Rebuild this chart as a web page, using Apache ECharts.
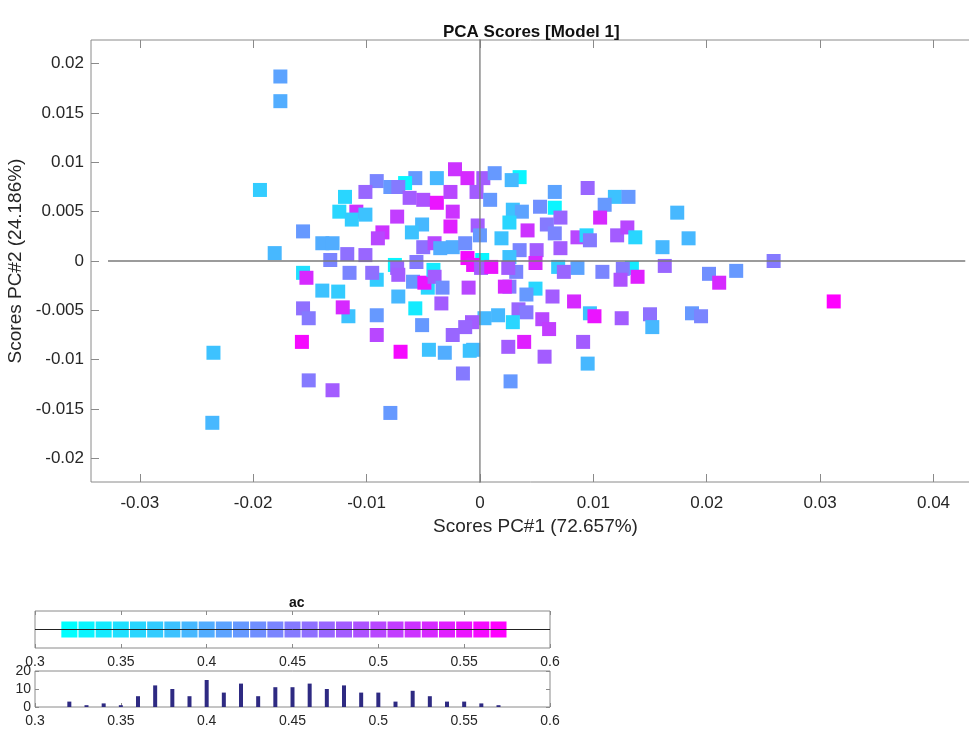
<!DOCTYPE html>
<html>
<head>
<meta charset="utf-8">
<script src="https://cdn.jsdelivr.net/npm/echarts@6/dist/echarts.min.js"></script>
<style>
html, body { margin: 0; padding: 0; background: #fff; }
#chart { width: 969px; height: 731px; }
</style>
</head>
<body>
<div id="chart"></div>
<script>
// PCA scores: [PC#1, PC#2, ac]
var scores = [
    [-0.0176, 0.0187, 0.41], [-0.0176, 0.0162, 0.40], [-0.0194, 0.0072, 0.37], [-0.0156, 0.0030, 0.42],
    [-0.0181, 0.0008, 0.39], [-0.0235, -0.0093, 0.38], [-0.0236, -0.0164, 0.39],
    [-0.0022, 0.0093, 0.52], [-0.0011, 0.0084, 0.53], [0.0003, 0.0084, 0.48], [-0.0057, 0.0084, 0.42],
    [-0.0038, 0.0084, 0.39], [-0.0091, 0.0081, 0.44], [-0.0066, 0.0079, 0.33], [-0.0079, 0.0075, 0.42],
    [-0.0072, 0.0075, 0.45], [-0.0101, 0.0070, 0.47], [-0.0062, 0.0064, 0.48], [-0.0050, 0.0062, 0.49],
    [-0.0038, 0.0059, 0.55], [-0.0026, 0.0070, 0.50], [-0.0003, 0.0070, 0.48], [-0.0119, 0.0065, 0.36],
    [-0.0124, 0.0050, 0.36], [-0.0109, 0.0050, 0.52], [-0.0113, 0.0042, 0.37], [-0.0101, 0.0047, 0.38],
    [-0.0073, 0.0045, 0.51], [-0.0024, 0.0050, 0.52], [-0.0026, 0.0035, 0.54], [-0.0051, 0.0037, 0.39],
    [-0.0060, 0.0029, 0.38], [-0.0086, 0.0029, 0.52], [-0.0090, 0.0023, 0.50], [-0.0139, 0.0018, 0.40],
    [-0.0130, 0.0018, 0.40], [-0.0117, 0.0007, 0.46], [-0.0132, 0.0001, 0.44], [-0.0101, 0.0006, 0.47],
    [-0.0050, 0.0014, 0.46], [-0.0040, 0.0018, 0.50], [-0.0024, 0.0014, 0.40], [-0.0013, 0.0018, 0.43],
    [-0.0002, 0.0036, 0.48], [0.0000, 0.0026, 0.42], [-0.0011, 0.0003, 0.56], [-0.0035, 0.0013, 0.40],
    [-0.0056, -0.0001, 0.45], [-0.0075, -0.0004, 0.33], [0.0002, 0.0001, 0.33],
    [0.0013, 0.0089, 0.42], [0.0035, 0.0085, 0.33], [0.0028, 0.0082, 0.39], [0.0009, 0.0062, 0.42],
    [0.0095, 0.0074, 0.47], [0.0066, 0.0070, 0.41], [0.0119, 0.0065, 0.38], [0.0131, 0.0065, 0.42],
    [0.0110, 0.0057, 0.42], [0.0053, 0.0055, 0.43], [0.0066, 0.0054, 0.33], [0.0029, 0.0052, 0.38],
    [0.0037, 0.0050, 0.41], [0.0071, 0.0044, 0.47], [0.0106, 0.0044, 0.53], [0.0026, 0.0039, 0.36],
    [0.0042, 0.0031, 0.52], [0.0059, 0.0037, 0.45], [0.0019, 0.0023, 0.38], [0.0066, 0.0028, 0.44],
    [0.0086, 0.0024, 0.50], [0.0094, 0.0026, 0.36], [0.0097, 0.0021, 0.45], [0.0121, 0.0026, 0.48],
    [0.0130, 0.0034, 0.50], [0.0137, 0.0024, 0.36], [0.0161, 0.0014, 0.39], [0.0174, 0.0049, 0.39],
    [0.0184, 0.0023, 0.39], [0.0035, 0.0011, 0.44], [0.0050, 0.0011, 0.48], [0.0071, 0.0013, 0.48],
    [0.0026, 0.0004, 0.38], [0.0049, -0.0002, 0.53], [0.0069, -0.0006, 0.37], [0.0086, -0.0007, 0.41],
    [0.0108, -0.0011, 0.44], [0.0134, -0.0007, 0.34], [0.0126, -0.0008, 0.45], [0.0139, -0.0016, 0.54],
    [0.0163, -0.0005, 0.47],
    [0.0259, 0.0000, 0.45], [0.0226, -0.0010, 0.42], [0.0202, -0.0013, 0.43], [0.0211, -0.0022, 0.53],
    [0.0312, -0.0041, 0.57], [0.0124, -0.0019, 0.49], [0.0074, -0.0011, 0.47], [0.0032, -0.0011, 0.44],
    [0.0025, -0.0007, 0.48], [-0.0006, -0.0004, 0.55], [0.0001, -0.0007, 0.48], [0.0010, -0.0006, 0.55],
    [0.0026, -0.0026, 0.45], [0.0022, -0.0026, 0.53], [0.0049, -0.0028, 0.36], [0.0041, -0.0034, 0.42],
    [0.0064, -0.0036, 0.48], [0.0083, -0.0041, 0.53], [0.0034, -0.0049, 0.47], [0.0041, -0.0052, 0.45],
    [0.0016, -0.0055, 0.39], [0.0004, -0.0058, 0.39], [0.0029, -0.0062, 0.36], [0.0055, -0.0059, 0.50],
    [0.0061, -0.0069, 0.51], [0.0097, -0.0053, 0.38], [0.0101, -0.0056, 0.55], [0.0125, -0.0058, 0.48],
    [0.0150, -0.0054, 0.46], [0.0152, -0.0067, 0.39], [0.0187, -0.0053, 0.42], [0.0195, -0.0056, 0.44],
    [0.0025, -0.0087, 0.48], [0.0039, -0.0082, 0.54], [0.0091, -0.0082, 0.48], [0.0057, -0.0097, 0.48],
    [0.0095, -0.0104, 0.39], [0.0027, -0.0122, 0.42], [-0.0006, -0.0090, 0.39], [-0.0007, -0.0062, 0.48],
    [-0.0010, -0.0027, 0.50],
    [-0.0156, -0.0012, 0.35], [-0.0153, -0.0017, 0.53], [-0.0115, -0.0012, 0.44], [-0.0091, -0.0019, 0.37],
    [-0.0095, -0.0012, 0.46], [-0.0073, -0.0007, 0.47], [-0.0072, -0.0014, 0.48], [-0.0059, -0.0021, 0.42],
    [-0.0046, -0.0027, 0.36], [-0.0049, -0.0022, 0.55], [-0.0041, -0.0009, 0.34], [-0.0040, -0.0016, 0.48],
    [-0.0033, -0.0027, 0.43], [-0.0139, -0.0030, 0.38], [-0.0125, -0.0031, 0.37], [-0.0072, -0.0036, 0.39],
    [-0.0057, -0.0048, 0.34], [-0.0034, -0.0043, 0.48], [-0.0156, -0.0048, 0.46], [-0.0151, -0.0058, 0.45],
    [-0.0116, -0.0056, 0.38], [-0.0121, -0.0047, 0.53], [-0.0091, -0.0055, 0.42], [-0.0051, -0.0065, 0.42],
    [-0.0013, -0.0067, 0.47], [-0.0024, -0.0075, 0.47], [-0.0157, -0.0082, 0.56], [-0.0091, -0.0075, 0.50],
    [-0.0070, -0.0092, 0.56], [-0.0045, -0.0090, 0.38], [-0.0031, -0.0093, 0.40], [-0.0009, -0.0091, 0.38],
    [-0.0015, -0.0114, 0.45], [-0.0151, -0.0121, 0.45], [-0.0130, -0.0131, 0.48], [-0.0079, -0.0154, 0.42]
];

// ac histogram
var acBins = [0.32, 0.33, 0.34, 0.35, 0.36, 0.37, 0.38, 0.39, 0.40, 0.41, 0.42, 0.43, 0.44,
              0.45, 0.46, 0.47, 0.48, 0.49, 0.50, 0.51, 0.52, 0.53, 0.54, 0.55, 0.56, 0.57];
var acCounts = [3, 1, 2, 1, 6, 12, 10, 6, 15, 8, 13, 6, 11,
                11, 13, 10, 12, 8, 8, 3, 9, 6, 3, 3, 2, 1];

var xTicks = [-0.03, -0.02, -0.01, 0, 0.01, 0.02, 0.03, 0.04];
var yTicks = [-0.02, -0.015, -0.01, -0.005, 0, 0.005, 0.01, 0.015, 0.02];
var acTicks = [0.3, 0.35, 0.4, 0.45, 0.5, 0.55, 0.6];

// zero lines of the score plot
var zeroH = [[-0.0328, 0], [0.0428, 0]];
var zeroV = [[0, -0.0225], [0, 0.0225]];

var FONT = 'Liberation Sans, Arial, sans-serif';
var frame = '#8a8a8a';
var txt = '#262626';

function fmt(v) { return String(+(+v).toFixed(4)); }

var option = {
    animation: false,
    backgroundColor: '#fff',
    textStyle: { fontFamily: FONT },
    title: [
        { text: 'PCA Scores [Model 1]', left: 438, top: 19,
          textStyle: { fontFamily: FONT, fontSize: 17, fontWeight: 'bold', color: '#111' } },
        { text: 'ac', left: 284, top: 591,
          textStyle: { fontFamily: FONT, fontSize: 14, fontWeight: 'bold', color: '#111' } }
    ],
    visualMap: {
        show: false,
        type: 'continuous',
        min: 0.32,
        max: 0.57,
        dimension: 2,
        seriesIndex: [0, 1],
        inRange: { color: ['#00ffff', '#ff00ff'] }
    },
    grid: [
        { left: 91, top: 40, width: 889, height: 442, show: true, borderColor: frame, borderWidth: 1,
          outerBoundsMode: 'none', containLabel: false },
        { left: 35, top: 611, width: 515, height: 37, show: true, borderColor: frame, borderWidth: 1,
          outerBoundsMode: 'none', containLabel: false },
        { left: 35, top: 671, width: 515, height: 36, show: true, borderColor: frame, borderWidth: 1,
          outerBoundsMode: 'none', containLabel: false }
    ],
    xAxis: [
        {
            gridIndex: 0, type: 'value', min: -0.0343, max: 0.0441,
            name: 'Scores PC#1 (72.657%)', nameLocation: 'middle', nameGap: 34,
            nameTextStyle: { fontFamily: FONT, fontSize: 19, color: txt },
            axisLine: { show: false, onZero: false },
            axisTick: { inside: true, length: 8, customValues: xTicks, lineStyle: { color: frame } },
            axisLabel: { customValues: xTicks, formatter: fmt, fontSize: 17, color: txt, margin: 13 },
            splitLine: { show: false }
        },
        {
            gridIndex: 0, type: 'value', min: -0.0343, max: 0.0441, position: 'top',
            axisLine: { show: false, onZero: false },
            axisTick: { inside: true, length: 8, customValues: xTicks, lineStyle: { color: frame } },
            axisLabel: { show: false },
            splitLine: { show: false }
        },
        {
            gridIndex: 1, type: 'value', min: 0.3, max: 0.6,
            axisLine: { show: false, onZero: false },
            axisTick: { inside: true, length: 4, customValues: acTicks, lineStyle: { color: frame } },
            axisLabel: { customValues: acTicks, formatter: fmt, fontSize: 14, color: txt, margin: 7 },
            splitLine: { show: false }
        },
        {
            gridIndex: 2, type: 'value', min: 0.3, max: 0.6,
            axisLine: { show: false, onZero: false },
            axisTick: { inside: true, length: 4, customValues: acTicks, lineStyle: { color: frame } },
            axisLabel: { customValues: acTicks, formatter: fmt, fontSize: 14, color: txt, margin: 7 },
            splitLine: { show: false }
        },
        {
            gridIndex: 1, type: 'value', min: 0.3, max: 0.6, position: 'top',
            axisLine: { show: false, onZero: false },
            axisTick: { inside: true, length: 4, customValues: acTicks, lineStyle: { color: frame } },
            axisLabel: { show: false },
            splitLine: { show: false }
        }
    ],
    yAxis: [
        {
            gridIndex: 0, type: 'value', min: -0.0224, max: 0.0224,
            name: 'Scores PC#2 (24.186%)', nameLocation: 'middle', nameGap: 60,
            nameTextStyle: { fontFamily: FONT, fontSize: 19, color: txt },
            axisLine: { show: false, onZero: false },
            axisTick: { inside: true, length: 8, customValues: yTicks, lineStyle: { color: frame } },
            axisLabel: { customValues: yTicks, formatter: fmt, fontSize: 17, color: txt, margin: 7 },
            splitLine: { show: false }
        },
        {
            gridIndex: 1, type: 'value', min: -1, max: 1,
            axisLine: { show: false, onZero: false }, axisTick: { show: false }, axisLabel: { show: false },
            splitLine: { show: false }
        },
        {
            gridIndex: 2, type: 'value', min: 0, max: 20, interval: 10,
            axisLine: { show: false, onZero: false },
            axisTick: { inside: true, length: 4, lineStyle: { color: frame } },
            axisLabel: { fontSize: 14, color: txt, margin: 4 },
            splitLine: { show: false }
        },
        {
            gridIndex: 2, type: 'value', min: 0, max: 20, interval: 10, position: 'right',
            axisLine: { show: false, onZero: false },
            axisTick: { inside: true, length: 4, lineStyle: { color: frame } },
            axisLabel: { show: false },
            splitLine: { show: false }
        }
    ],
    series: [
        {
            type: 'scatter', xAxisIndex: 0, yAxisIndex: 0,
            symbol: 'rect', symbolSize: 14,
            itemStyle: { opacity: 1 },
            data: scores,
            emphasis: { disabled: true },
            z: 2
        },
        {
            type: 'scatter', xAxisIndex: 2, yAxisIndex: 1,
            symbol: 'rect', symbolSize: 16,
            itemStyle: { opacity: 1 },
            data: acBins.map(function (v) { return [v, 0, v]; }),
            emphasis: { disabled: true },
            markLine: {
                silent: true, symbol: 'none', label: { show: false },
                lineStyle: { color: '#222', width: 1, type: 'solid' },
                data: [{ yAxis: 0 }]
            },
            z: 2
        },
        {
            type: 'bar', xAxisIndex: 3, yAxisIndex: 2,
            barWidth: 4,
            itemStyle: { color: '#2e2a82' },
            data: acBins.map(function (v, i) { return [v, acCounts[i]]; })
        },
        {
            type: 'line', xAxisIndex: 0, yAxisIndex: 0,
            data: zeroH, symbol: 'none', silent: true,
            lineStyle: { color: '#7a7a7a', width: 1.3 }, z: 5
        },
        {
            type: 'line', xAxisIndex: 0, yAxisIndex: 0,
            data: zeroV, symbol: 'none', silent: true,
            lineStyle: { color: '#7a7a7a', width: 1.3 }, z: 5
        }
    ]
};

var myChart = echarts.init(document.getElementById('chart'));
myChart.setOption(option);
</script>
</body>
</html>
